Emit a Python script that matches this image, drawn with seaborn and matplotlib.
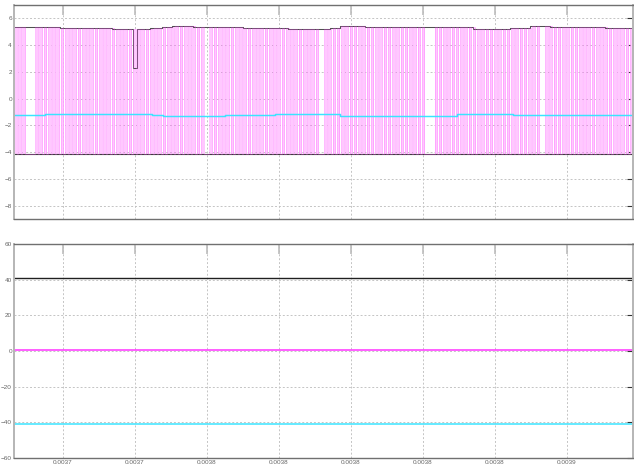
import numpy as np
import pandas as pd
import matplotlib
matplotlib.use("Agg")
import matplotlib.pyplot as plt
from matplotlib.ticker import FormatStrFormatter
import seaborn as sns

# ---- time window (microseconds) ----
window_us = [3706.39, 3878.33]
xtick_s = [0.00372, 0.00374, 0.00376, 0.00378, 0.00380, 0.00382, 0.00384, 0.00386]

# ---- upper panel: switched output, upper rail, average ----
top_rail_t_us = [3706.39, 3719.17, 3733.61, 3739.58, 3740.56, 3744.17, 3747.50,
                 3750.28, 3756.11, 3770.00, 3782.50, 3794.17, 3796.94, 3803.89,
                 3809.44, 3833.89, 3844.17, 3849.72, 3855.28, 3870.56, 3878.33]
top_rail_v = [5.35, 5.28, 5.22, 2.30, 5.22, 5.28, 5.33,
              5.46, 5.37, 5.30, 5.23, 5.30, 5.42, 5.37,
              5.33, 5.23, 5.31, 5.46, 5.38, 5.30, 5.30]
low_rail_v = -4.15

avg_t_us = [3706.39, 3715.00, 3730.28, 3744.72, 3747.78, 3765.00,
            3778.89, 3796.94, 3829.44, 3845.00, 3864.44, 3878.33]
avg_v = [-1.25, -1.18, -1.15, -1.22, -1.29, -1.24,
         -1.15, -1.28, -1.15, -1.26, -1.21, -1.21]

switch_period_us = 1.18
duty = 0.62
hold_windows_us = [(3709.17, 3711.67), (3758.89, 3760.56), (3790.28, 3791.94),
                   (3820.83, 3823.06), (3851.67, 3853.06)]

top_yticks = [6, 4, 2, 0, -2, -4, -6, -8]

# ---- lower panel: bus voltages ----
bus_t_us = [3706.39, 3878.33]
bus_pos_v = [41.1, 41.1]
bus_mid_v = [0.3, 0.3]
bus_neg_v = [-41.0, -41.0]
bottom_yticks = [60, 40, 20, 0, -20, -40, -60]

US = 1e-6


def rail_at(t):
    idx = np.searchsorted(top_rail_t_us, t, side="right") - 1
    return top_rail_v[max(0, min(idx, len(top_rail_v) - 1))]


# build the switched waveform from the carrier period
pts_t, pts_v = [], []
n_periods = int((window_us[1] - window_us[0]) / switch_period_us) + 1
for k in range(n_periods):
    s = window_us[0] + k * switch_period_us
    e = s + duty * switch_period_us
    held = any(a <= s < b for a, b in hold_windows_us)
    if held:
        pts_t += [s, s + switch_period_us]
        pts_v += [low_rail_v, low_rail_v]
        continue
    hi = rail_at(s)
    pts_t += [s, s, e, e]
    pts_v += [low_rail_v, hi, hi, low_rail_v]
pwm = pd.DataFrame({"t": np.array(pts_t) * US, "v": pts_v})

rail_df = pd.DataFrame({"t": np.array(top_rail_t_us) * US, "v": top_rail_v})
avg_df = pd.DataFrame({"t": np.array(avg_t_us) * US, "v": avg_v})

sns.set_theme(style="white")
plt.rcParams["font.family"] = ["Liberation Sans", "DejaVu Sans"]
plt.rcParams["path.simplify"] = False

fig = plt.figure(figsize=(6.34, 4.73), dpi=100)
ax1 = fig.add_axes([14 / 634, 1 - 219 / 473, 619 / 634, 214 / 473])
ax2 = fig.add_axes([14 / 634, 1 - 458 / 473, 619 / 634, 214 / 473])

for ax in (ax1, ax2):
    ax.set_xlim(window_us[0] * US, window_us[1] * US)
    ax.set_xticks(xtick_s)
    ax.grid(True, color="#c4c4c4", linestyle=(0, (2, 2)), linewidth=0.7)
    ax.tick_params(axis="both", direction="in", top=True, right=True,
                   labelsize=4.6, colors="#666666", pad=1.5)
    ax.tick_params(axis="x", length=7, color="#bcbcbc", width=1.2)
    ax.tick_params(axis="y", length=4, color="#333333", width=0.8)
    for side in ("top", "bottom"):
        ax.spines[side].set_color("#707070")
        ax.spines[side].set_linewidth(1.0)
    for side in ("left", "right"):
        ax.spines[side].set_color("#b5b5b5")
        ax.spines[side].set_linewidth(1.4)

# upper panel
ax1.fill_between(pwm["t"], low_rail_v, pwm["v"], color="#ffc8ff", lw=0, zorder=1.5)
sns.lineplot(data=rail_df, x="t", y="v", ax=ax1, color="#505050", lw=0.75,
             drawstyle="steps-post", estimator=None)
ax1.axhline(low_rail_v, color="#404040", lw=0.8)
sns.lineplot(data=pwm, x="t", y="v", ax=ax1, color="#ff44ff", lw=0.4, alpha=0.5,
             estimator=None, sort=False)
sns.lineplot(data=avg_df, x="t", y="v", ax=ax1, color="#3ae4ff", lw=1.05,
             drawstyle="steps-post", estimator=None)
ax1.set_ylim(-9, 7)
ax1.set_yticks(top_yticks)
ax1.set_xticklabels([])
ax1.set_xlabel("")
ax1.set_ylabel("")

# lower panel
bus_t = np.array(bus_t_us) * US
sns.lineplot(x=bus_t, y=bus_pos_v, ax=ax2, color="#202020", lw=1.0)
sns.lineplot(x=bus_t, y=bus_mid_v, ax=ax2, color="#ff33ff", lw=1.1)
sns.lineplot(x=bus_t, y=bus_neg_v, ax=ax2, color="#3ae4ff", lw=1.1)
ax2.set_ylim(-60, 60)
ax2.set_yticks(bottom_yticks)
ax2.xaxis.set_major_formatter(FormatStrFormatter("%.4f"))
ax2.set_xlabel("")
ax2.set_ylabel("")

fig.savefig("out.png", dpi=100)
